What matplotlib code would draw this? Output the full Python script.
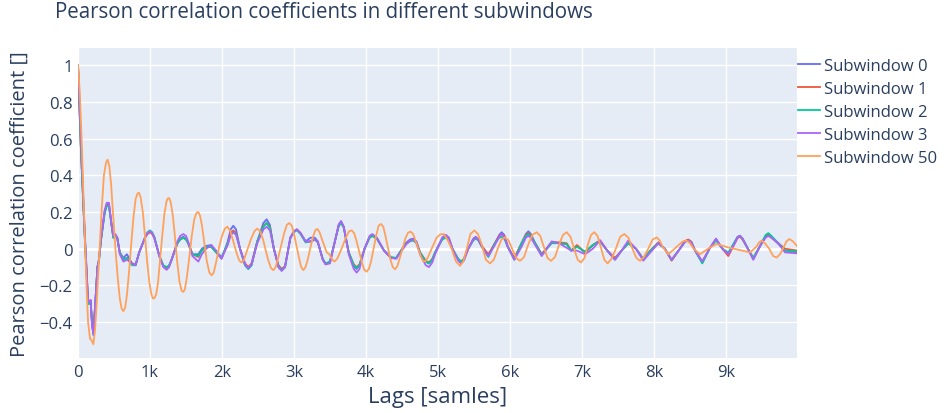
import matplotlib
matplotlib.use("Agg")
import matplotlib.pyplot as plt
from matplotlib.ticker import FuncFormatter, MultipleLocator

plt.rcParams['font.family'] = ['Open Sans', 'DejaVu Sans']

# lag positions shared by subwindows 0-3 (one row of 10 per line)
lags_sub = [0, 40, 90, 140, 157, 175, 195, 213, 240, 270,
            290, 320, 370, 400, 430, 470, 491, 520, 545, 580,
            630, 680, 750, 800, 850, 930, 965, 1000, 1030, 1060,
            1130, 1185, 1231, 1265, 1300, 1380, 1420, 1463, 1500, 1530,
            1590, 1671, 1720, 1780, 1850, 1920, 1995, 2080, 2120, 2157,
            2195, 2250, 2320, 2365, 2410, 2490, 2575, 2620, 2665, 2720,
            2785, 2829, 2875, 2950, 3000, 3040, 3090, 3162, 3230, 3290,
            3330, 3400, 3440, 3500, 3580, 3620, 3653, 3690, 3760, 3830,
            3870, 3910, 3980, 4050, 4088, 4150, 4250, 4347, 4420, 4550,
            4610, 4657, 4700, 4750, 4830, 4875, 4920, 4960, 5060, 5107,
            5150, 5200, 5280, 5319, 5360, 5420, 5490, 5524, 5560, 5610,
            5699, 5790, 5850, 5884, 5920, 5970, 6060, 6160, 6220, 6255,
            6290, 6350, 6440, 6579, 6680, 6787, 6850, 6930, 7042, 7150,
            7250, 7350, 7458, 7550, 7643, 7750, 7851, 7950, 8060, 8150,
            8245, 8360, 8430, 8477, 8520, 8570, 8671, 8770, 8861, 8950,
            9032, 9110, 9160, 9194, 9230, 9290, 9379, 9480, 9550, 9588,
            9630, 9727, 9819, 9990]

sub0 = [1.0, 0.55, 0.1, -0.28, -0.30, -0.28, -0.40, -0.47, -0.30, -0.10,
        -0.06, 0.05, 0.20, 0.245, 0.24, 0.12, 0.062, 0.075, 0.06, -0.02,
        -0.05, -0.03, -0.08, -0.085, -0.02, 0.06, 0.085, 0.095, 0.085, 0.06,
        -0.04, -0.095, -0.11, -0.095, -0.06, 0.03, 0.055, 0.065, 0.055, 0.03,
        -0.03, -0.03, 0.0, 0.015, 0.02, -0.02, -0.055, 0.04, 0.105, 0.125,
        0.105, 0.0, -0.09, -0.11, -0.09, 0.04, 0.14, 0.16, 0.13, 0.0,
        -0.10, -0.12, -0.10, 0.06, 0.095, 0.105, 0.085, 0.04, 0.06, 0.06,
        0.04, -0.06, -0.085, -0.07, 0.06, 0.13, 0.15, 0.12, -0.02, -0.095,
        -0.11, -0.09, 0.0, 0.065, 0.075, 0.06, -0.01, -0.05, -0.05, 0.03,
        0.05, 0.055, 0.04, -0.02, -0.07, -0.08, -0.06, -0.02, 0.06, 0.075,
        0.06, 0.0, -0.06, -0.075, -0.06, 0.0, 0.055, 0.065, 0.05, 0.01,
        -0.04, 0.03, 0.075, 0.09, 0.075, 0.01, -0.055, 0.03, 0.08, 0.095,
        0.08, 0.03, -0.03, 0.035, 0.03, 0.025, -0.01, 0.015, -0.02, 0.02,
        0.045, -0.01, -0.057, -0.01, 0.03, 0.0, -0.057, -0.01, 0.03, 0.0,
        -0.062, 0.0, 0.04, 0.048, 0.035, -0.01, -0.075, 0.0, 0.053, 0.0,
        -0.03, 0.03, 0.065, 0.071, 0.055, 0.01, -0.057, 0.02, 0.07, 0.08,
        0.065, 0.026, -0.01, -0.02]

sub1 = [1.0, 0.55, 0.1, -0.30, -0.29, -0.28, -0.40, -0.46, -0.30, -0.10,
        -0.07, 0.05, 0.20, 0.24, 0.235, 0.12, 0.06, 0.07, 0.06, -0.02,
        -0.06, -0.05, -0.08, -0.09, -0.02, 0.06, 0.08, 0.09, 0.08, 0.06,
        -0.04, -0.095, -0.11, -0.095, -0.06, 0.03, 0.05, 0.06, 0.05, 0.03,
        -0.03, -0.045, -0.01, 0.01, 0.01, -0.02, -0.05, 0.03, 0.085, 0.10,
        0.085, 0.0, -0.08, -0.10, -0.08, 0.04, 0.125, 0.14, 0.12, 0.0,
        -0.09, -0.11, -0.095, 0.06, 0.095, 0.105, 0.085, 0.035, 0.04, 0.05,
        0.035, -0.06, -0.085, -0.07, 0.06, 0.125, 0.145, 0.12, -0.02, -0.085,
        -0.10, -0.085, 0.0, 0.06, 0.07, 0.055, -0.01, -0.05, -0.05, 0.025,
        0.045, 0.05, 0.035, -0.02, -0.065, -0.075, -0.055, -0.02, 0.055, 0.07,
        0.055, 0.0, -0.055, -0.07, -0.055, 0.0, 0.05, 0.06, 0.05, 0.015,
        -0.03, 0.03, 0.07, 0.08, 0.07, 0.01, -0.05, 0.03, 0.075, 0.085,
        0.07, 0.03, -0.03, 0.035, 0.035, 0.03, -0.01, 0.02, -0.02, 0.02,
        0.045, -0.01, -0.05, -0.01, 0.03, 0.0, -0.055, -0.01, 0.035, 0.0,
        -0.065, 0.0, 0.042, 0.05, 0.038, -0.01, -0.07, 0.0, 0.05, 0.0,
        -0.04, 0.02, 0.058, 0.065, 0.05, 0.01, -0.05, 0.02, 0.065, 0.075,
        0.06, 0.03, 0.0, -0.01]

sub2 = [1.0, 0.55, 0.1, -0.30, -0.30, -0.29, -0.41, -0.46, -0.30, -0.10,
        -0.07, 0.05, 0.19, 0.235, 0.23, 0.12, 0.06, 0.07, 0.06, -0.02,
        -0.06, -0.05, -0.09, -0.09, -0.02, 0.06, 0.09, 0.10, 0.09, 0.065,
        -0.04, -0.09, -0.10, -0.09, -0.06, 0.03, 0.05, 0.06, 0.05, 0.03,
        -0.03, -0.04, -0.01, 0.01, 0.01, -0.02, -0.045, 0.03, 0.075, 0.09,
        0.08, 0.0, -0.09, -0.11, -0.09, 0.04, 0.12, 0.14, 0.115, 0.0,
        -0.095, -0.115, -0.10, 0.06, 0.09, 0.10, 0.08, 0.035, 0.04, 0.05,
        0.035, -0.055, -0.08, -0.07, 0.06, 0.12, 0.14, 0.115, -0.02, -0.09,
        -0.105, -0.09, 0.0, 0.06, 0.07, 0.055, -0.01, -0.045, -0.05, 0.025,
        0.04, 0.045, 0.03, -0.02, -0.07, -0.08, -0.06, -0.02, 0.05, 0.06,
        0.05, 0.0, -0.055, -0.07, -0.055, 0.0, 0.045, 0.055, 0.045, 0.01,
        -0.045, 0.03, 0.06, 0.065, 0.055, 0.01, -0.06, 0.03, 0.07, 0.08,
        0.065, 0.03, -0.035, 0.03, 0.03, 0.025, -0.01, 0.01, -0.015, 0.02,
        0.04, -0.01, -0.06, -0.01, 0.03, 0.0, -0.06, -0.01, 0.03, 0.0,
        -0.06, 0.0, 0.038, 0.045, 0.033, -0.01, -0.08, 0.0, 0.045, 0.0,
        -0.02, 0.03, 0.062, 0.07, 0.055, 0.01, -0.05, 0.02, 0.075, 0.085,
        0.07, 0.03, -0.01, -0.015]

sub3 = [1.0, 0.60, 0.12, -0.28, -0.29, -0.28, -0.42, -0.46, -0.30, -0.10,
        -0.06, 0.06, 0.21, 0.25, 0.25, 0.12, 0.07, 0.08, 0.06, -0.03,
        -0.07, -0.06, -0.08, -0.09, -0.02, 0.06, 0.085, 0.095, 0.085, 0.06,
        -0.04, -0.10, -0.115, -0.10, -0.06, 0.04, 0.07, 0.08, 0.07, 0.04,
        -0.04, -0.07, -0.03, 0.0, 0.02, -0.01, -0.05, 0.02, 0.075, 0.09,
        0.075, 0.0, -0.085, -0.105, -0.085, 0.03, 0.105, 0.12, 0.10, 0.0,
        -0.10, -0.12, -0.10, 0.06, 0.095, 0.105, 0.085, 0.04, 0.04, 0.05,
        0.04, -0.06, -0.085, -0.08, 0.06, 0.13, 0.15, 0.12, -0.03, -0.11,
        -0.13, -0.11, 0.0, 0.07, 0.08, 0.06, -0.01, -0.05, -0.055, 0.02,
        0.045, 0.05, 0.035, -0.03, -0.09, -0.10, -0.075, -0.03, 0.06, 0.075,
        0.06, 0.0, -0.065, -0.08, -0.065, 0.0, 0.05, 0.06, 0.05, 0.01,
        -0.04, 0.02, 0.065, 0.08, 0.065, 0.01, -0.06, 0.01, 0.06, 0.07,
        0.06, 0.02, -0.04, 0.04, 0.03, 0.005, -0.01, -0.01, -0.03, 0.0,
        0.045, -0.01, -0.06, -0.01, 0.045, 0.0, -0.065, -0.02, 0.03, 0.0,
        -0.06, 0.0, 0.038, 0.045, 0.033, -0.01, -0.07, 0.0, 0.055, 0.0,
        -0.03, 0.02, 0.062, 0.07, 0.055, 0.01, -0.06, 0.02, 0.06, 0.07,
        0.06, 0.03, -0.02, -0.025]

# subwindow 50 as (lag, coefficient) points
sub50_points = [
    (0, 1.0), (25, 0.85), (50, 0.6), (75, 0.3), (100, 0.0), (120, -0.22),
    (140, -0.40), (167, -0.49), (190, -0.50), (213, -0.52), (235, -0.45),
    (255, -0.33), (280, -0.15), (300, 0.0), (330, 0.22), (360, 0.40),
    (390, 0.47), (412, 0.485), (435, 0.45), (460, 0.35), (490, 0.17),
    (520, 0.0), (550, -0.15), (580, -0.27), (605, -0.325), (630, -0.34),
    (655, -0.32), (680, -0.25), (710, -0.12), (740, 0.03), (770, 0.17),
    (800, 0.27), (825, 0.30), (847, 0.305), (870, 0.28), (900, 0.20),
    (930, 0.07), (960, -0.07), (990, -0.18), (1020, -0.25), (1040, -0.27),
    (1060, -0.27), (1085, -0.25), (1110, -0.19), (1140, -0.06), (1170, 0.07),
    (1200, 0.19), (1230, 0.26), (1250, 0.275), (1268, 0.275), (1290, 0.25),
    (1320, 0.17), (1350, 0.05), (1380, -0.08), (1410, -0.18), (1440, -0.23),
    (1463, -0.235), (1485, -0.22), (1510, -0.16), (1545, -0.05), (1580, 0.07),
    (1615, 0.16), (1645, 0.195), (1671, 0.20), (1695, 0.18), (1720, 0.13),
    (1755, 0.03), (1790, -0.07), (1825, -0.13), (1857, -0.145), (1885, -0.13),
    (1920, -0.07), (1960, 0.01), (2000, 0.07), (2040, 0.11), (2074, 0.12),
    (2110, 0.10), (2150, 0.05), (2200, -0.02), (2240, -0.065), (2273, -0.075),
    (2305, -0.06), (2340, -0.02), (2400, 0.05), (2450, 0.095), (2490, 0.11),
    (2530, 0.095), (2570, 0.05), (2640, -0.06), (2680, -0.105), (2713, -0.117),
    (2745, -0.10), (2780, -0.05), (2860, 0.08), (2900, 0.13), (2935, 0.14),
    (2970, 0.125), (3000, 0.08), (3070, -0.05), (3100, -0.10), (3130, -0.117),
    (3160, -0.10), (3190, -0.06), (3260, 0.06), (3295, 0.10), (3324, 0.108),
    (3355, 0.09), (3390, 0.05), (3454, -0.02), (3490, -0.03), (3525, -0.055),
    (3560, -0.07), (3600, -0.055), (3640, -0.02), (3720, 0.06), (3765, 0.095),
    (3801, 0.10), (3835, 0.085), (3870, 0.04), (3940, -0.07), (3975, -0.115),
    (4009, -0.125), (4040, -0.11), (4070, -0.07), (4140, 0.07), (4175, 0.125),
    (4208, 0.135), (4240, 0.12), (4270, 0.07), (4340, -0.06), (4372, -0.10),
    (4403, -0.112), (4435, -0.095), (4470, -0.05), (4550, 0.06), (4585, 0.088),
    (4620, 0.093), (4655, 0.08), (4690, 0.04), (4760, -0.04), (4790, -0.065),
    (4819, -0.07), (4855, -0.05), (4900, -0.01), (4980, 0.06), (5030, 0.078),
    (5080, 0.08), (5130, 0.05), (5190, 0.0), (5250, -0.07), (5306, -0.093),
    (5350, -0.07), (5400, 0.0), (5450, 0.08), (5505, 0.10), (5555, 0.08),
    (5610, 0.02), (5665, -0.06), (5722, -0.08), (5775, -0.06), (5830, 0.0),
    (5880, 0.05), (5931, 0.062), (5980, 0.045), (6030, 0.0), (6085, -0.05),
    (6139, -0.066), (6195, -0.045), (6250, 0.02), (6310, 0.075), (6370, 0.09),
    (6420, 0.07), (6470, 0.01), (6520, -0.05), (6569, -0.066), (6625, -0.045),
    (6680, 0.02), (6735, 0.075), (6787, 0.09), (6840, 0.065), (6890, 0.0),
    (6940, -0.06), (6986, -0.075), (7035, -0.05), (7080, 0.02), (7125, 0.075),
    (7171, 0.09), (7215, 0.07), (7260, 0.01), (7310, -0.06), (7356, -0.08),
    (7410, -0.055), (7470, 0.0), (7530, 0.065), (7588, 0.08), (7645, 0.06),
    (7700, 0.0), (7755, -0.05), (7806, -0.066), (7860, -0.045), (7920, 0.0),
    (7980, 0.05), (8037, 0.062), (8080, 0.045), (8120, 0.01), (8199, -0.03),
    (8270, -0.005), (8340, 0.02), (8400, 0.04), (8454, 0.044), (8500, 0.03),
    (8550, 0.0), (8639, -0.03), (8750, 0.0), (8870, 0.026), (9032, 0.007),
    (9218, -0.01), (9333, -0.02), (9420, 0.01), (9460, 0.035), (9495, 0.044),
    (9540, 0.03), (9600, 0.0), (9655, -0.04), (9704, -0.048), (9750, -0.03),
    (9790, 0.0), (9840, 0.04), (9879, 0.053), (9930, 0.04), (9982, 0.016),
]
lags_50 = [p[0] for p in sub50_points]
sub50 = [p[1] for p in sub50_points]

names = ['Subwindow 0', 'Subwindow 1', 'Subwindow 2', 'Subwindow 3', 'Subwindow 50']
colors = ['#636EFA', '#EF553B', '#00CC96', '#AB63FA', '#FFA15A']
text_color = '#2a3f5f'

for s in (sub0, sub1, sub2, sub3):
    assert len(s) == len(lags_sub), len(s)

fig = plt.figure(figsize=(9.46, 4.14), dpi=100)
ax = fig.add_axes([78 / 946, 1 - 359 / 414, (797 - 78) / 946, (359 - 49) / 414])
ax.set_facecolor('#E5ECF6')

series = [(lags_sub, sub0), (lags_sub, sub1), (lags_sub, sub2), (lags_sub, sub3), (lags_50, sub50)]
for (x, y), name, c in zip(series, names, colors):
    ax.plot(x, y, color=c, lw=1.3, label=name, solid_joinstyle='round')

ax.set_xlim(0, 9986)
ax.set_ylim(-0.595, 1.093)
ax.xaxis.set_major_locator(MultipleLocator(1000))
ax.yaxis.set_major_locator(MultipleLocator(0.2))
ax.xaxis.set_major_formatter(FuncFormatter(lambda v, p: '0' if v == 0 else f'{int(v / 1000)}k'))
ax.yaxis.set_major_formatter(FuncFormatter(lambda v, p: f'{round(v, 1):g}'.replace('-', '\u2212')))
ax.grid(True, color='white', lw=1)
ax.axhline(0, color='white', lw=2, zorder=0.9)
ax.set_axisbelow(True)
for s in ax.spines.values():
    s.set_visible(False)
ax.tick_params(length=0, labelsize=12, labelcolor=text_color, pad=4)

ax.set_xlabel('Lags [samles]', fontsize=16, color=text_color, labelpad=5)
ax.set_ylabel('Pearson correlation coefficient []', fontsize=14.5, color=text_color, labelpad=7)
fig.text(55 / 946, 1 - 13 / 414, 'Pearson correlation coefficients in different subwindows',
         fontsize=14.8, color=text_color, ha='left', va='center')

fig.legend(loc='upper left', bbox_to_anchor=(798 / 946, 1 - 59 / 414), frameon=False,
           fontsize=12, labelcolor=text_color, handlelength=1.3, handletextpad=0.25,
           labelspacing=0.42, borderpad=0, borderaxespad=0)

fig.savefig('out.png', dpi=100)
